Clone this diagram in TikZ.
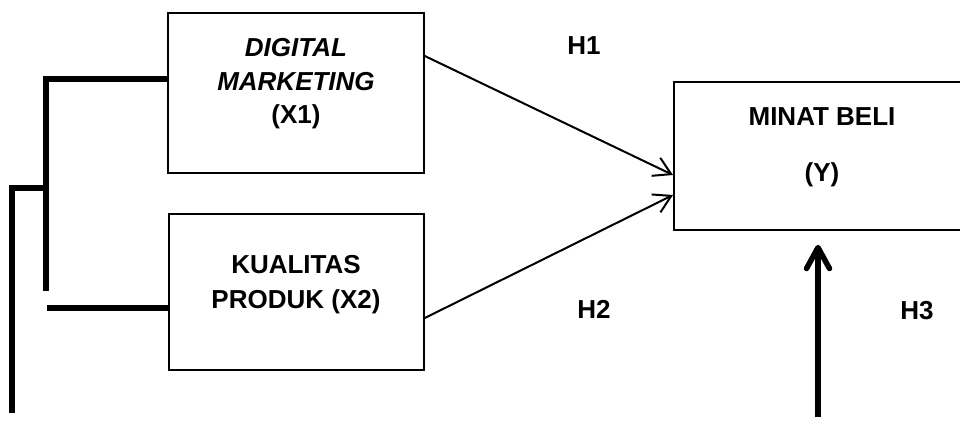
\documentclass[tikz,border=0pt]{standalone}
\usepackage{fontspec}
\setmainfont{Liberation Sans}
\usetikzlibrary{arrows.meta}
\begin{document}
\begin{tikzpicture}[x=1pt,y=-1pt,
  box/.style={draw, line width=1.8pt, inner sep=0pt, anchor=north west},
  lbl/.style={font=\fontsize{26}{31}\selectfont\bfseries, anchor=base, inner sep=0pt},
  lbli/.style={font=\fontsize{26}{31}\selectfont\bfseries\itshape, anchor=base, inner sep=0pt},
  thinarrow/.style={line width=2pt, -{Straight Barb[length=17pt,width=20pt]}},
  heavy/.style={line width=5.5pt},
]
\path[use as bounding box] (0,0) rectangle (960,446);
\clip (0,0) rectangle (960,446);

% boxes
\node[box, minimum width=256pt, minimum height=160pt] (x1) at (167,12) {};
\node[box, minimum width=255pt, minimum height=156pt] (x2) at (168,213) {};
\node[box, minimum width=298pt, minimum height=148pt] (y) at (673,81) {};

% box texts
\node[lbli] (t1a) at (296,57) {DIGITAL};
\node[lbli] (t1b) at (296,91) {MARKETING};
\node[lbl]  (t1c) at (296,124) {(X1)};
\node[lbl]  (t2a) at (296,273) {KUALITAS};
\node[lbl]  (t2b) at (296,308) {PRODUK (X2)};
\node[lbl]  (tya) at (822,126) {MINAT BELI};
\node[lbl]  (tyb) at (822,182) {(Y)};

% hypothesis labels
\node[lbl] (h1) at (584,55) {H1};
\node[lbl] (h2) at (594,318) {H2};
\node[lbl] (h3) at (917,319) {H3};

% thin arrows
\draw[thinarrow] ([yshift=-44pt]x1.north east) -- ([yshift=-94pt]y.north west);
\draw[thinarrow] ([yshift=-105pt]x2.north east) -- ([yshift=-114pt]y.north west);

% thick arrow from below
\coordinate (h3s) at (818,417);
\coordinate (h3e) at (h3s |- y.south);
\draw[heavy, -{Straight Barb[length=21pt,width=23pt,round]}] (h3s) -- ([yshift=-14pt]h3e);

% left bracket
\coordinate (b1) at (46,79);
\coordinate (b2) at (46,291);
\coordinate (b3) at (46,188);
\coordinate (b4) at (12,188);
\coordinate (b5) at (12,413);
\coordinate (b6) at (47,308);
\draw[heavy] ([yshift=-67pt]x1.north west) -- (b1) -- (b2);
\draw[heavy] (b3) -- (b4) -- (b5);
\draw[heavy] (b6) -- ([yshift=-95pt]x2.north west);
\end{tikzpicture}
\end{document}
